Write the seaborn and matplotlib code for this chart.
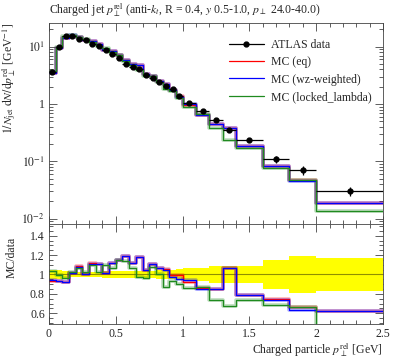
import numpy as np
import pandas as pd
import matplotlib
matplotlib.use('Agg')
import matplotlib.pyplot as plt
from matplotlib.lines import Line2D
from matplotlib.ticker import MultipleLocator, LogLocator, FuncFormatter, NullFormatter
import seaborn as sns

# bin edges of the charged particle p_T^rel histogram [GeV]
edges = [0.00, 0.05, 0.10, 0.15, 0.20, 0.25, 0.30, 0.35, 0.40, 0.45, 0.50,
         0.55, 0.60, 0.65, 0.70, 0.75, 0.80, 0.85, 0.90, 0.95, 1.00,
         1.1, 1.2, 1.3, 1.4, 1.6, 1.8, 2.0, 2.5]

# ATLAS data and relative uncertainty
data = [3.66, 10.0, 15.6, 15.4, 13.6, 13.1, 11.1, 10.2, 8.6, 7.5,
        6.3, 5.0, 4.5, 4.0, 3.2, 2.8, 2.4, 2.1, 1.8, 1.4,
        1.05, 0.755, 0.526, 0.352, 0.235, 0.11, 0.0705, 0.030]
data_relerr = [0.05, 0.045, 0.04, 0.03, 0.03, 0.03, 0.03, 0.03, 0.035, 0.035,
               0.035, 0.035, 0.035, 0.035, 0.035, 0.035, 0.05, 0.05, 0.05, 0.055,
               0.065, 0.065, 0.09, 0.09, 0.09, 0.145, 0.19, 0.165]

# MC predictions
mc_eq = [3.42, 9.32, 14.32, 15.66, 14.81, 13.19, 12.47, 11.25, 8.69, 8.42,
         7.25, 5.93, 5.05, 4.74, 3.36, 3.10, 2.55, 2.21, 1.79, 1.39,
         0.964, 0.652, 0.450, 0.376, 0.185, 0.0822, 0.0471, 0.0188]
mc_wz = [3.45, 9.32, 14.32, 15.71, 14.67, 13.19, 12.35, 11.25, 8.69, 8.42,
         7.21, 5.93, 5.05, 4.74, 3.36, 3.10, 2.55, 2.19, 1.76, 1.33,
         0.989, 0.646, 0.450, 0.376, 0.185, 0.0814, 0.0447, 0.0186]
mc_locked = [3.78, 9.93, 15.07, 15.82, 14.52, 13.45, 12.24, 10.48, 9.43, 7.97,
             7.23, 5.69, 4.81, 3.90, 3.07, 3.02, 2.40, 1.84, 1.67, 1.27,
             0.899, 0.660, 0.388, 0.238, 0.173, 0.0754, 0.0471, 0.0135]

mc_labels = ['MC (eq)', 'MC (wz-weighted)', 'MC (locked_lambda)']
mc_colors = ['#ff0000', '#0000ff', '#1f8a1f']

sns.set_style('ticks')
plt.rcParams['font.family'] = ['Liberation Serif', 'DejaVu Serif']
plt.rcParams['mathtext.fontset'] = 'stix'
plt.rcParams['font.size'] = 8.5

edges_a = np.array(edges)
data_a = np.array(data)
centers = 0.5 * (edges_a[1:] + edges_a[:-1])
halfw = 0.5 * (edges_a[1:] - edges_a[:-1])
err = data_a * np.array(data_relerr)

# long table for seaborn step lines
rows = []
for lab, vals in zip(mc_labels, [mc_eq, mc_wz, mc_locked]):
    ext = list(vals) + [vals[-1]]
    rat = list(np.array(vals) / data_a)
    rat = rat + [rat[-1]]
    for x, y, r in zip(edges, ext, rat):
        rows.append({'x': x, 'y': y, 'ratio': r, 'mc': lab})
df = pd.DataFrame(rows)

fig = plt.figure(figsize=(3.97, 3.58), dpi=100)
ax1 = fig.add_axes([49/397, 1-224/358, 334/397, 201/358])
ax2 = fig.add_axes([49/397, 1-324/358, 334/397, 100/358])

pal = dict(zip(mc_labels, mc_colors))

# ---- main panel
sns.lineplot(data=df, x='x', y='y', hue='mc', palette=pal, drawstyle='steps-post',
             estimator=None, sort=False, lw=2.6, alpha=0.3, legend=False, ax=ax1)
sns.lineplot(data=df, x='x', y='y', hue='mc', palette=pal, drawstyle='steps-post',
             estimator=None, sort=False, lw=0.9, legend=False, ax=ax1)
ax1.errorbar(centers, data_a, xerr=halfw, yerr=err, fmt='o', color='black',
             ms=3.5, lw=0.9, capsize=0, zorder=5)
ax1.set_yscale('log')
ax1.set_xlim(0, 2.5)
ax1.set_ylim(0.00805, 25.9)
ax1.set_xlabel('')
ax1.set_ylabel(r'$1/N_\mathrm{jet}\;\mathrm{d}N/\mathrm{d}p_\perp^\mathrm{rel}$ [GeV$^{-1}$]', loc='top')
ax1.yaxis.set_label_coords(-0.093, 1.0)
ax1.xaxis.set_major_locator(MultipleLocator(0.5))
ax1.xaxis.set_minor_locator(MultipleLocator(0.1))
ax1.yaxis.set_major_locator(LogLocator(base=10, numticks=10))
ax1.yaxis.set_minor_locator(LogLocator(base=10, subs=np.arange(2, 10), numticks=20))
ax1.yaxis.set_minor_formatter(NullFormatter())
ax1.yaxis.set_major_formatter(FuncFormatter(
    lambda v, p: '1' if abs(v - 1) < 1e-9 else r'$10^{%d}$' % round(np.log10(v))))
ax1.tick_params(axis='x', labelbottom=False)

handles = [Line2D([], [], color='black', marker='o', ms=3.5, lw=0.9)]
handles += [Line2D([], [], color=c, lw=0.9) for c in mc_colors]
ax1.legend(handles, ['ATLAS data'] + mc_labels, loc='upper left',
           bbox_to_anchor=(0.52, 0.95), frameon=False, handlelength=3.0,
           handletextpad=0.6, labelspacing=0.45, borderpad=0, fontsize=8.5)

fig.text(49/397, 1-10/358,
         r'Charged jet $p_\perp^\mathrm{rel}$ (anti-$k_t$, R = 0.4, $y$ 0.5-1.0, $p_\perp$ 24.0-40.0)',
         ha='left', va='center', fontsize=8.5)

# ---- ratio panel
band_lo = list(1 - np.array(data_relerr)) + [1 - data_relerr[-1]]
band_hi = list(1 + np.array(data_relerr)) + [1 + data_relerr[-1]]
ax2.fill_between(edges, band_lo, band_hi, step='post', color='#ffff00', lw=0, zorder=1)
ax2.axhline(1.0, color='#8f8f00', lw=0.8, zorder=2)
sns.lineplot(data=df, x='x', y='ratio', hue='mc', palette=pal, drawstyle='steps-post',
             estimator=None, sort=False, lw=2.6, alpha=0.3, legend=False, ax=ax2)
sns.lineplot(data=df, x='x', y='ratio', hue='mc', palette=pal, drawstyle='steps-post',
             estimator=None, sort=False, lw=0.9, legend=False, ax=ax2)
ax2.set_xlim(0, 2.5)
ax2.set_ylim(0.49, 1.52)
ax2.xaxis.set_major_locator(MultipleLocator(0.5))
ax2.xaxis.set_minor_locator(MultipleLocator(0.1))
ax2.yaxis.set_major_locator(MultipleLocator(0.2))
ax2.yaxis.set_minor_locator(MultipleLocator(0.05))
ax2.xaxis.set_major_formatter(FuncFormatter(lambda v, p: '%g' % v))
ax2.yaxis.set_major_formatter(FuncFormatter(lambda v, p: '%g' % round(v, 2)))
ax2.set_xlabel(r'Charged particle $p_\perp^\mathrm{rel}$ [GeV]', loc='right', labelpad=1)
ax2.set_ylabel('MC/data', loc='top')
ax2.yaxis.set_label_coords(-0.093, 0.87)

for ax in (ax1, ax2):
    for s in ax.spines.values():
        s.set_linewidth(0.6)
        s.set_color('#444444')
    ax.tick_params(which='both', direction='in', top=True, right=True,
                   color='#444444', width=0.6, labelsize=8.5, pad=3)
    ax.tick_params(which='major', length=6)
    ax.tick_params(which='minor', length=3)

fig.savefig('out.png', dpi=100)
